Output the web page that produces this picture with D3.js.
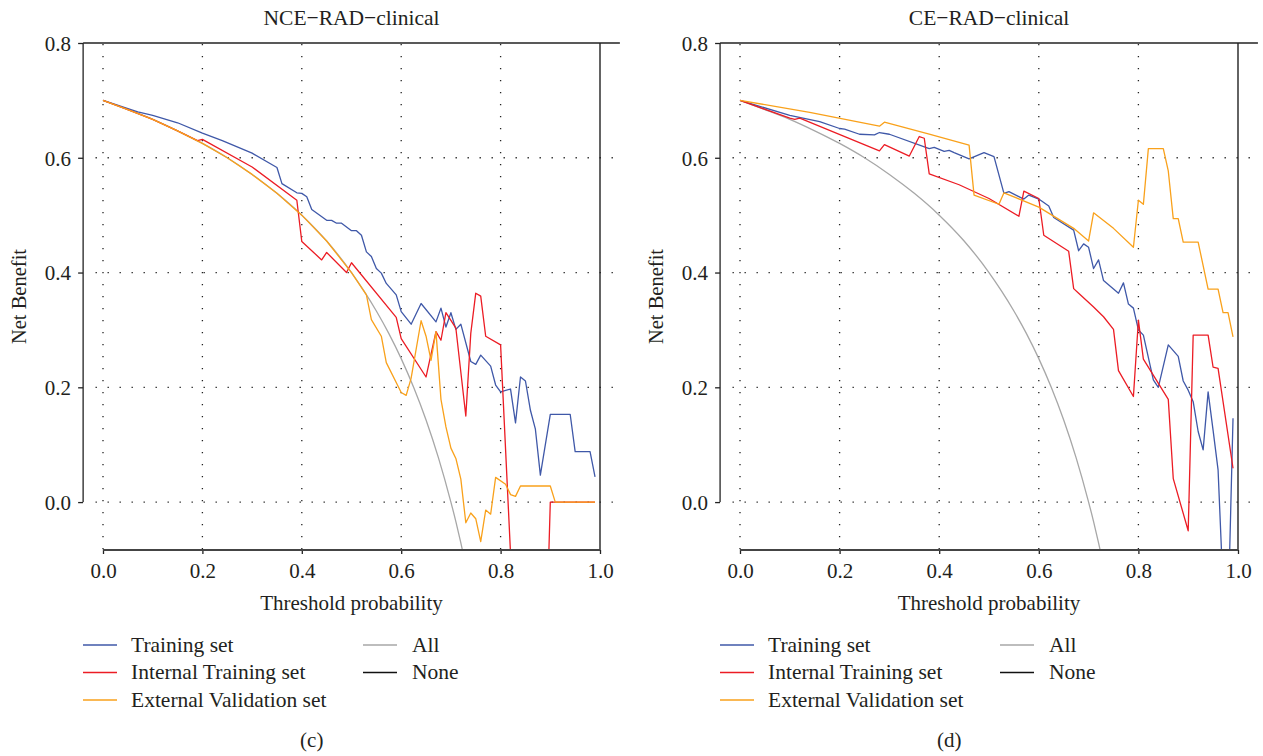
<!DOCTYPE html>
<html>
<head>
<meta charset="utf-8">
<script src="https://cdn.jsdelivr.net/npm/d3@7"></script>
<style>
  body { margin: 0; background: #fff; }
  text { font-family: "Liberation Serif", "DejaVu Serif", serif; fill: #231f20; }
</style>
</head>
<body>
<div id="chart"></div>
<script>
// Threshold grid shared by the "All" reference curve (prevalence 0.7)
const allT  = [0, 0.05, 0.1, 0.15, 0.2, 0.25, 0.3, 0.35, 0.4, 0.45, 0.5, 0.525, 0.55, 0.575, 0.6, 0.625, 0.65, 0.675, 0.7, 0.71, 0.72, 0.73, 0.74];
const allNB = [0.700, 0.684, 0.667, 0.647, 0.625, 0.600, 0.571, 0.538, 0.500, 0.455, 0.400, 0.368, 0.333, 0.294, 0.250, 0.200, 0.143, 0.077, 0.000, -0.034, -0.071, -0.111, -0.154];

// Panel (c) NCE-RAD-clinical
const cTrainT  = [0, 0.07, 0.10, 0.15, 0.20, 0.24, 0.30, 0.35, 0.36, 0.39, 0.40, 0.41, 0.42, 0.45, 0.46, 0.47, 0.48, 0.50, 0.51, 0.52, 0.53, 0.54, 0.55, 0.56, 0.57, 0.59, 0.60, 0.62, 0.64, 0.67, 0.68, 0.69, 0.70, 0.71, 0.72, 0.74, 0.75, 0.76, 0.78, 0.79, 0.80, 0.82, 0.83, 0.84, 0.85, 0.86, 0.87, 0.88, 0.90, 0.94, 0.95, 0.98, 0.99];
const cTrainNB = [0.700, 0.680, 0.674, 0.661, 0.643, 0.630, 0.608, 0.583, 0.555, 0.539, 0.538, 0.532, 0.510, 0.491, 0.491, 0.486, 0.486, 0.473, 0.473, 0.465, 0.436, 0.428, 0.407, 0.399, 0.381, 0.361, 0.332, 0.310, 0.346, 0.314, 0.338, 0.305, 0.330, 0.301, 0.310, 0.245, 0.240, 0.256, 0.237, 0.204, 0.192, 0.197, 0.138, 0.218, 0.211, 0.160, 0.127, 0.047, 0.153, 0.153, 0.088, 0.088, 0.044];

const cIntT  = [0, 0.05, 0.10, 0.15, 0.19, 0.20, 0.30, 0.39, 0.40, 0.44, 0.45, 0.49, 0.50, 0.59, 0.60, 0.65, 0.67, 0.68, 0.69, 0.71, 0.73, 0.74, 0.75, 0.76, 0.77, 0.80, 0.82, 0.85, 0.89, 0.90, 0.99];
const cIntNB = [0.700, 0.684, 0.667, 0.647, 0.630, 0.632, 0.584, 0.526, 0.454, 0.422, 0.435, 0.400, 0.417, 0.322, 0.285, 0.218, 0.297, 0.282, 0.330, 0.303, 0.150, 0.294, 0.364, 0.359, 0.289, 0.274, -0.090, -0.300, -0.300, 0.000, 0.000];

const cExtT  = [0, 0.05, 0.10, 0.15, 0.20, 0.25, 0.30, 0.35, 0.40, 0.45, 0.50, 0.53, 0.54, 0.56, 0.57, 0.60, 0.61, 0.62, 0.64, 0.65, 0.66, 0.67, 0.68, 0.69, 0.70, 0.71, 0.72, 0.73, 0.74, 0.75, 0.76, 0.77, 0.78, 0.79, 0.81, 0.82, 0.83, 0.84, 0.90, 0.91, 0.99];
const cExtNB = [0.700, 0.684, 0.667, 0.647, 0.625, 0.600, 0.571, 0.538, 0.500, 0.455, 0.400, 0.361, 0.318, 0.289, 0.243, 0.191, 0.186, 0.216, 0.316, 0.289, 0.247, 0.297, 0.179, 0.131, 0.094, 0.076, 0.040, -0.036, -0.019, -0.029, -0.069, -0.014, -0.021, 0.043, 0.031, 0.013, 0.010, 0.028, 0.028, 0.000, 0.000];

// Panel (d) CE-RAD-clinical
const dTrainT  = [0, 0.10, 0.16, 0.20, 0.21, 0.24, 0.27, 0.28, 0.30, 0.38, 0.39, 0.41, 0.42, 0.43, 0.46, 0.49, 0.51, 0.53, 0.54, 0.57, 0.58, 0.60, 0.62, 0.63, 0.67, 0.68, 0.69, 0.70, 0.71, 0.72, 0.73, 0.76, 0.77, 0.78, 0.79, 0.80, 0.81, 0.83, 0.84, 0.86, 0.88, 0.89, 0.90, 0.91, 0.92, 0.93, 0.94, 0.95, 0.96, 0.97, 0.98, 0.99];
const dTrainNB = [0.700, 0.674, 0.663, 0.651, 0.650, 0.641, 0.640, 0.644, 0.641, 0.616, 0.618, 0.611, 0.613, 0.609, 0.598, 0.609, 0.602, 0.538, 0.541, 0.528, 0.535, 0.528, 0.516, 0.496, 0.474, 0.438, 0.450, 0.444, 0.407, 0.422, 0.386, 0.364, 0.382, 0.345, 0.338, 0.300, 0.291, 0.213, 0.200, 0.274, 0.254, 0.211, 0.195, 0.175, 0.123, 0.091, 0.192, 0.125, 0.056, -0.150, -0.200, 0.146];

const dIntT  = [0, 0.10, 0.11, 0.12, 0.28, 0.29, 0.34, 0.36, 0.37, 0.38, 0.44, 0.50, 0.56, 0.57, 0.60, 0.61, 0.66, 0.67, 0.68, 0.71, 0.73, 0.75, 0.76, 0.79, 0.80, 0.81, 0.86, 0.87, 0.90, 0.91, 0.94, 0.95, 0.96, 0.99];
const dIntNB = [0.700, 0.669, 0.667, 0.669, 0.612, 0.623, 0.603, 0.637, 0.634, 0.572, 0.553, 0.529, 0.498, 0.542, 0.529, 0.465, 0.437, 0.372, 0.364, 0.340, 0.323, 0.301, 0.229, 0.184, 0.317, 0.249, 0.179, 0.041, -0.050, 0.291, 0.291, 0.235, 0.233, 0.059];

const dExtT  = [0, 0.14, 0.28, 0.29, 0.38, 0.46, 0.47, 0.52, 0.53, 0.60, 0.67, 0.70, 0.71, 0.75, 0.79, 0.80, 0.81, 0.82, 0.85, 0.86, 0.87, 0.88, 0.89, 0.92, 0.94, 0.96, 0.97, 0.98, 0.99];
const dExtNB = [0.700, 0.679, 0.655, 0.662, 0.641, 0.622, 0.535, 0.519, 0.539, 0.514, 0.477, 0.455, 0.504, 0.477, 0.444, 0.526, 0.519, 0.616, 0.616, 0.577, 0.494, 0.494, 0.453, 0.453, 0.371, 0.371, 0.330, 0.330, 0.288];

const seriesNames = ['Training set', 'Internal Training set', 'External Validation set'];
const refNames = ['All', 'None'];
const xTicks = [0, 0.2, 0.4, 0.6, 0.8, 1.0];
const yTicks = [0, 0.2, 0.4, 0.6, 0.8];

const colors = ['#3f58a8', '#ec1c24', '#f9a11b'];
const allColor = '#a7a7a7';

const width = 1263, height = 756;
const plotTop = 43, plotBottom = 550;

const svg = d3.select('#chart').append('svg')
  .attr('width', width)
  .attr('height', height);

const zip = (ts, vs) => ts.map((t, i) => ({ t: t, v: vs[i] }));

function drawPanel(id, x0, x1, title, label, sets) {
  // x0 / x1 are the pixel positions of threshold 0 and 1
  const k = x1 - x0;
  const x = d3.scaleLinear().domain([-0.04, 1.04]).range([x0 - 0.04 * k, x1 + 0.04 * k]);
  const y = d3.scaleLinear().domain([-0.0835, 0.8]).range([plotBottom, plotTop]);

  const g = svg.append('g');

  g.append('clipPath').attr('id', 'clip' + id)
    .append('rect')
    .attr('x', x(-0.04)).attr('y', y(0.8))
    .attr('width', x(1.04) - x(-0.04)).attr('height', y(-0.0835) - y(0.8));

  // dotted grid
  g.selectAll('.vgrid').data(xTicks.slice(0, 5)).enter().append('line')
    .attr('x1', d => x(d)).attr('x2', d => x(d))
    .attr('y1', y(0.8) + 1).attr('y2', plotBottom)
    .attr('stroke', '#222').attr('stroke-width', 1.3)
    .attr('stroke-dasharray', '1.3,10.7');
  g.selectAll('.hgrid').data(yTicks.slice(0, 4)).enter().append('line')
    .attr('x1', x(-0.015)).attr('x2', x(1.04))
    .attr('y1', d => y(d)).attr('y2', d => y(d))
    .attr('stroke', '#222').attr('stroke-width', 1.3)
    .attr('stroke-dasharray', '1.3,10.7');

  const line = d3.line().x(d => x(d.t)).y(d => y(d.v));
  const lines = g.append('g').attr('clip-path', `url(#clip${id})`);

  lines.append('path')
    .datum(zip(allT, allNB))
    .attr('d', line.curve(d3.curveMonotoneX))
    .attr('fill', 'none').attr('stroke', allColor).attr('stroke-width', 1.3);
  line.curve(d3.curveLinear);

  sets.forEach((s, i) => {
    lines.append('path')
      .datum(zip(s[0], s[1]))
      .attr('d', line)
      .attr('fill', 'none')
      .attr('stroke', colors[i])
      .attr('stroke-width', 1.3)
      .attr('stroke-linejoin', 'round');
  });

  // frame: top line at 0.8 and vertical line at threshold 1
  g.append('line')
    .attr('x1', x(-0.04)).attr('x2', x(1.04))
    .attr('y1', y(0.8)).attr('y2', y(0.8))
    .attr('stroke', '#222').attr('stroke-width', 1.4);
  g.append('line')
    .attr('x1', x(1)).attr('x2', x(1))
    .attr('y1', y(0.8)).attr('y2', plotBottom)
    .attr('stroke', '#222').attr('stroke-width', 1.4);

  // axes
  const yAxis = g.append('g')
    .attr('transform', `translate(${x(-0.04)},0)`)
    .call(d3.axisLeft(y).tickValues(yTicks).tickFormat(d3.format('.1f')).tickSize(5).tickSizeOuter(0));
  yAxis.select('.domain').remove();
  yAxis.append('line')
    .attr('y1', y(0)).attr('y2', y(0.8))
    .attr('stroke', '#222').attr('stroke-width', 1.3);

  const xAxis = g.append('g')
    .attr('transform', `translate(0,${plotBottom})`)
    .call(d3.axisBottom(x).tickValues(xTicks).tickFormat(d3.format('.1f')).tickSize(4).tickSizeOuter(0));
  xAxis.select('.domain').remove();
  xAxis.append('line')
    .attr('x1', x(0)).attr('x2', x(1))
    .attr('stroke', '#444').attr('stroke-width', 2);

  [yAxis, xAxis].forEach(a => {
    a.selectAll('.tick line').attr('stroke', '#222').attr('stroke-width', 1.3);
    a.selectAll('text')
      .style('font-family', '"Liberation Serif", serif')
      .style('font-size', '21px')
      .attr('fill', '#231f20');
  });
  yAxis.selectAll('text').attr('x', -12).attr('dy', '0.35em');
  xAxis.selectAll('text').attr('y', 13).attr('dy', '0.71em');

  // titles
  g.append('text')
    .attr('x', x(0.5)).attr('y', 25)
    .attr('text-anchor', 'middle')
    .style('font-size', '21.5px')
    .text(title);
  g.append('text')
    .attr('x', x(0.5)).attr('y', 610)
    .attr('text-anchor', 'middle')
    .style('font-size', '21px')
    .text('Threshold probability');
  g.append('text')
    .attr('transform', `translate(${x0 - 77},${(plotTop + plotBottom) / 2}) rotate(-90)`)
    .attr('text-anchor', 'middle')
    .style('font-size', '20.5px')
    .text('Net Benefit');

  // legend
  const rows = [645, 672.5, 700];
  const leg = g.append('g');
  seriesNames.forEach((name, i) => {
    leg.append('line')
      .attr('x1', x0 - 20).attr('x2', x0 + 14)
      .attr('y1', rows[i]).attr('y2', rows[i])
      .attr('stroke', colors[i]).attr('stroke-width', 1.3);
    leg.append('text')
      .attr('x', x0 + 28).attr('y', rows[i] + 6.5)
      .style('font-size', '21.5px')
      .text(name);
  });
  refNames.forEach((name, i) => {
    leg.append('line')
      .attr('x1', x0 + 260).attr('x2', x0 + 294)
      .attr('y1', rows[i]).attr('y2', rows[i])
      .attr('stroke', i === 0 ? allColor : '#111').attr('stroke-width', 1.3);
    leg.append('text')
      .attr('x', x0 + 309).attr('y', rows[i] + 6.5)
      .style('font-size', '21.5px')
      .text(name);
  });

  g.append('text')
    .attr('x', x(0.42)).attr('y', 747)
    .attr('text-anchor', 'middle')
    .style('font-size', '21px')
    .text(label);
}

drawPanel('c', 103, 600, 'NCE\u2212RAD\u2212clinical', '(c)',
  [[cTrainT, cTrainNB], [cIntT, cIntNB], [cExtT, cExtNB]]);
drawPanel('d', 740, 1238, 'CE\u2212RAD\u2212clinical', '(d)',
  [[dTrainT, dTrainNB], [dIntT, dIntNB], [dExtT, dExtNB]]);
</script>
</body>
</html>
